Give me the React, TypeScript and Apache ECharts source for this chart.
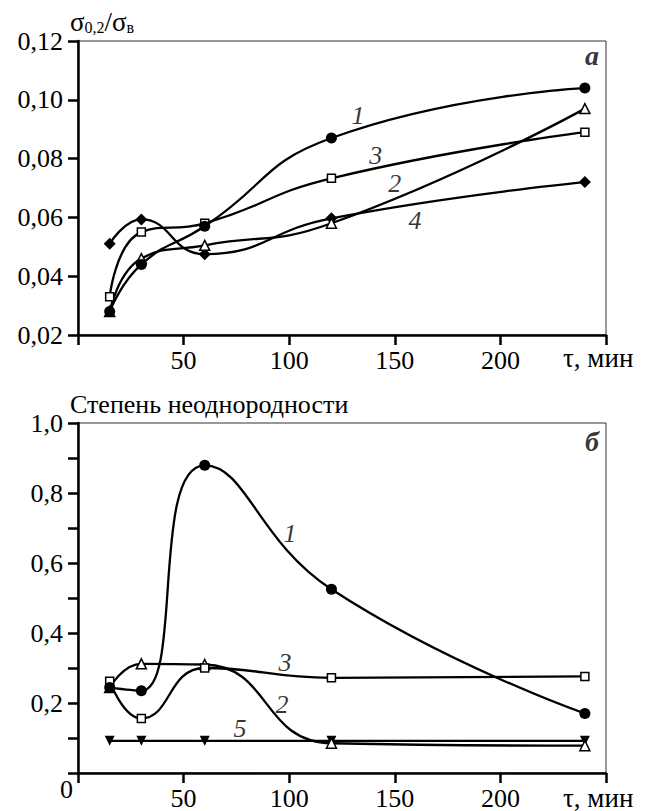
import React, { useEffect, useRef } from "react";
import * as echarts from "echarts";

const FONT = "Liberation Serif";

// x values (time, min)
const xValues = [15, 30, 60, 120, 240];
const xTicks = [50, 100, 150, 200];

// top chart (а): σ0,2/σв
const topS1 = [0.028, 0.044, 0.057, 0.087, 0.104]; // filled circle
const topS2 = [0.028, 0.046, 0.0505, 0.058, 0.097]; // open triangle
const topS3 = [0.033, 0.055, 0.058, 0.0733, 0.089]; // open square
const topS4 = [0.051, 0.0593, 0.0475, 0.0597, 0.072]; // filled diamond

// bottom chart (б): степень неоднородности
const botS1 = [0.244, 0.235, 0.879, 0.525, 0.17]; // filled circle
const botS2 = [0.244, 0.312, 0.31, 0.085, 0.078]; // open triangle
const botS3 = [0.262, 0.156, 0.30, 0.272, 0.276]; // open square
const botS5 = [0.092, 0.092, 0.092, 0.092, 0.092]; // filled down triangle

// curve number labels [text, x, y]
const topLabels: [string, number, number][] = [
  ["1", 132.6, 0.0948],
  ["3", 141, 0.0812],
  ["2", 150, 0.0717],
  ["4", 159.6, 0.0591],
];
const botLabels: [string, number, number][] = [
  ["1", 100.4, 0.684],
  ["3", 98, 0.316],
  ["2", 96.6, 0.195],
  ["5", 76.7, 0.127],
];
const topPanel: [string, number, number] = ["а", 243.4, 0.1152];
const botPanel: [string, number, number] = ["б", 243.4, 0.946];

const pairs = (ys: number[]) => xValues.map((x, i) => [x, ys[i]]);

const txt = (size: number) => ({
  fontFamily: FONT,
  fontSize: size,
  fontStyle: "normal",
  fontWeight: "normal",
  color: "#000",
});

export default function App() {
  const ref = useRef<HTMLDivElement>(null);
  useEffect(() => {
    document.body.style.margin = "0";
    if (!ref.current) return;
    const chart = echarts.init(ref.current, null, { renderer: "svg" });

    const lineW = 2.3;
    const mkSeries = (
      ys: number[],
      g: number,
      symbol: string,
      filled: boolean,
      size: number,
      smooth: boolean | number = 0.5,
      rotate = 0
    ) => ({
      type: "line",
      xAxisIndex: g,
      yAxisIndex: g,
      data: pairs(ys),
      smooth,
      symbol,
      symbolSize: size,
      symbolRotate: rotate,
      showSymbol: true,
      lineStyle: { color: "#000", width: lineW },
      itemStyle: {
        color: filled ? "#000" : "#fff",
        borderColor: "#000",
        borderWidth: filled ? 0 : 1.5,
      },
      z: 3,
    });

    const labelSeries = (
      items: [string, number, number][],
      g: number,
      bold = false,
      size = 26
    ) => ({
      type: "scatter",
      xAxisIndex: g,
      yAxisIndex: g,
      symbolSize: 1,
      itemStyle: { color: "transparent" },
      data: items.map(([t, x, y]) => ({ value: [x, y], name: t })),
      label: {
        show: true,
        position: "inside",
        formatter: "{b}",
        fontFamily: FONT,
        fontStyle: "italic",
        fontWeight: bold ? "bold" : "normal",
        fontSize: size,
        color: "#000",
      },
      z: 5,
    });

    const xAxisBase = (g: number) => ({
      type: "value",
      gridIndex: g,
      min: 0,
      max: 250,
      interval: 50,
      axisLine: { onZero: false, lineStyle: { color: "#000", width: 2.5 } },
      axisTick: { length: 10, lineStyle: { color: "#000", width: 2.5 } },
      axisLabel: {
        margin: 12,
        ...txt(26),
        formatter: (v: number) => (xTicks.includes(v) ? String(v) : ""),
      },
      splitLine: { show: false },
    });

    chart.setOption({
      animation: false,
      grid: [
        { left: 78, top: 41, width: 528, height: 294, show: true, borderColor: "#333", borderWidth: 1 },
        { left: 78, top: 423, width: 528, height: 354, show: true, borderColor: "#333", borderWidth: 1 },
      ],
      xAxis: [xAxisBase(0), xAxisBase(1)],
      yAxis: [
        {
          type: "value",
          gridIndex: 0,
          min: 0.02,
          max: 0.12,
          interval: 0.02,
          axisLine: { show: true, onZero: false, lineStyle: { color: "#000", width: 2.5 } },
          axisTick: { show: true, length: 10, lineStyle: { color: "#000", width: 2.5 } },
          axisLabel: {
            margin: 15,
            ...txt(26),
            formatter: (v: number) => v.toFixed(2).replace(".", ","),
          },
          splitLine: { show: false },
        },
        {
          type: "value",
          gridIndex: 1,
          min: 0,
          max: 1,
          interval: 0.1,
          axisLine: { show: true, onZero: false, lineStyle: { color: "#000", width: 2.5 } },
          axisTick: { show: true, length: 10, lineStyle: { color: "#000", width: 2.5 } },
          axisLabel: {
            margin: 15,
            ...txt(26),
            formatter: (v: number) => {
              const k = Math.round(v * 10);
              if (k === 0 || k % 2 !== 0) return "";
              return v.toFixed(1).replace(".", ",");
            },
          },
          splitLine: { show: false },
        },
      ],
      graphic: [
        {
          type: "text",
          left: 70,
          top: 8,
          style: {
            text: "{a|σ}{b|0,2}{a|/σ}{b|в}",
            fill: "#000",
            fontFamily: FONT,
            rich: {
              a: { fontFamily: FONT, fontSize: 27, lineHeight: 28, fill: "#000" },
              b: { fontFamily: FONT, fontSize: 16, lineHeight: 15, verticalAlign: "bottom", fill: "#000" },
            },
          },
        },
        {
          type: "text",
          left: 70,
          top: 391,
          style: { text: "Степень неоднородности", fontFamily: FONT, fontSize: 26, fill: "#000" },
        },
        {
          type: "text",
          left: 563,
          top: 344,
          style: { text: "τ, мин", fontFamily: FONT, fontSize: 27, fill: "#000" },
        },
        {
          type: "text",
          left: 563,
          top: 784,
          style: { text: "τ, мин", fontFamily: FONT, fontSize: 27, fill: "#000" },
        },
        {
          type: "text",
          left: 60,
          top: 776,
          style: { text: "0", fontFamily: FONT, fontSize: 26, fill: "#000" },
        },
      ],
      series: [
        mkSeries(topS4, 0, "diamond", true, 12),
        mkSeries(topS2, 0, "triangle", false, 10),
        mkSeries(topS3, 0, "rect", false, 8),
        mkSeries(topS1, 0, "circle", true, 11),
        mkSeries(botS5, 1, "triangle", true, 10, false, 180),
        mkSeries(botS2, 1, "triangle", false, 10),
        mkSeries(botS3, 1, "rect", false, 8),
        mkSeries(botS1, 1, "circle", true, 11),
        labelSeries(topLabels, 0),
        labelSeries(botLabels, 1),
        labelSeries([topPanel], 0, true, 28),
        labelSeries([botPanel], 1, true, 28),
      ],
    });
    return () => chart.dispose();
  }, []);
  return (
    <div style={{ fontFamily: FONT, background: "#fff" }}>
      <div ref={ref} style={{ width: 647, height: 811 }} />
    </div>
  );
}
